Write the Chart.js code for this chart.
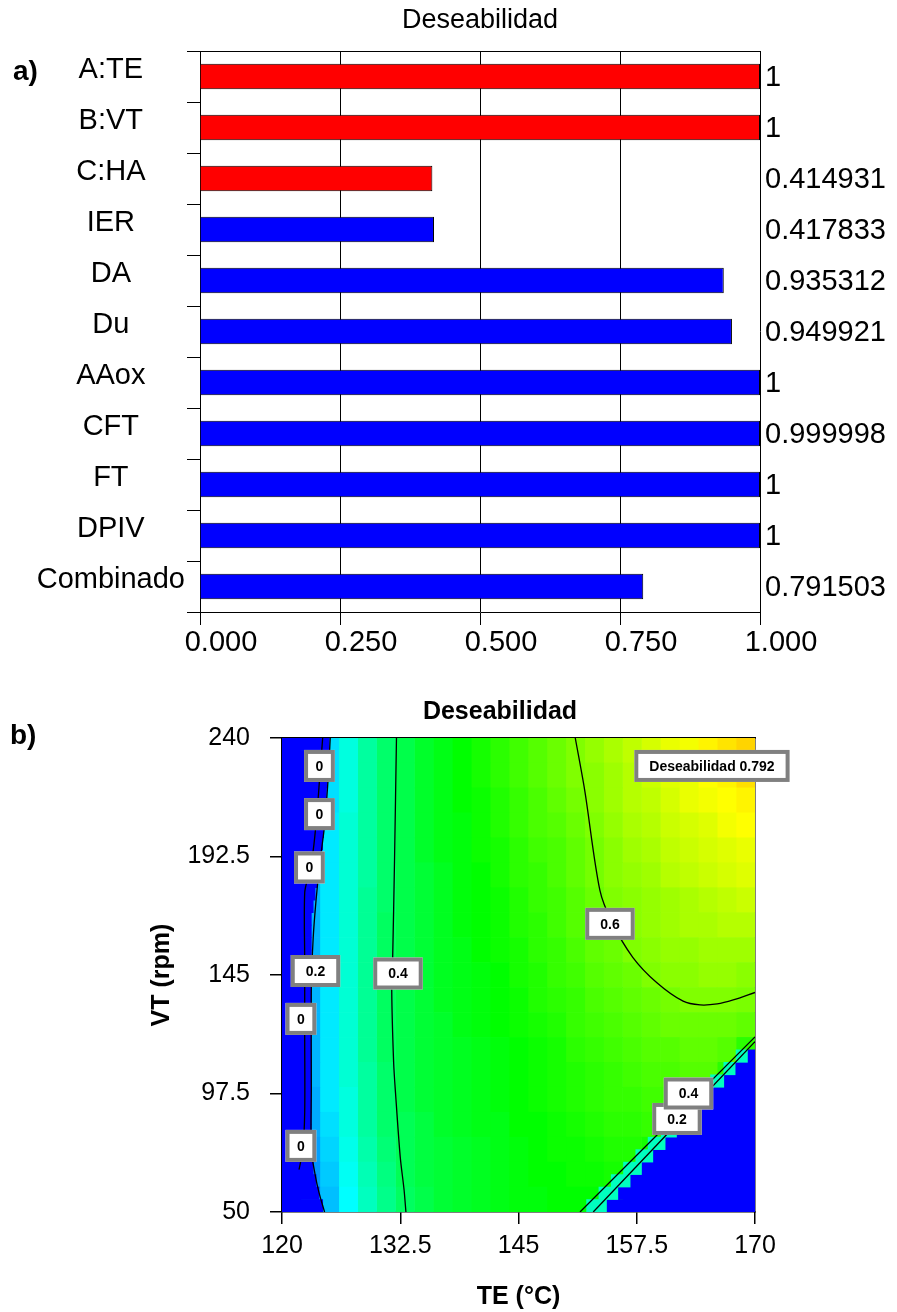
<!DOCTYPE html>
<html>
<head>
<meta charset="utf-8">
<title>Deseabilidad</title>
<script src="https://cdn.jsdelivr.net/npm/chart.js@4.4.1/dist/chart.umd.min.js"></script>
<style>
  html, body { margin: 0; padding: 0; background: #fff; }
  #page { position: relative; width: 897px; height: 1312px; overflow: hidden; font-family: "Liberation Sans", Arial, sans-serif; }
  canvas { position: absolute; left: 0; }
  #barChart { top: 0; }
  #contourChart { top: 680px; }
  .panel { position: absolute; font-weight: bold; font-size: 28px; line-height: 28px; color: #000; }
</style>
</head>
<body>
<div id="page">
  <canvas id="barChart" width="897" height="680"></canvas>
  <canvas id="contourChart" width="897" height="632"></canvas>
  <div class="panel" style="left:13px;top:57px">a)</div>
  <div class="panel" style="left:10px;top:721px">b)</div>
</div>
<script>
// ---- panel a) : individual desirabilities ----
var categories = ['A:TE', 'B:VT', 'C:HA', 'IER', 'DA', 'Du', 'AAox', 'CFT', 'FT', 'DPIV', 'Combinado'];
var desirabilities = [1, 1, 0.414931, 0.417833, 0.935312, 0.949921, 1, 0.999998, 1, 1, 0.791503];
var kinds = ['factor', 'factor', 'factor', 'response', 'response', 'response', 'response', 'response', 'response', 'response', 'response'];
var barTicks = [0, 0.25, 0.5, 0.75, 1];

// ---- panel b) : desirability contour over TE / VT ----
var teTicks = [120, 132.5, 145, 157.5, 170];
var vtTicks = [50, 97.5, 145, 192.5, 240];
var teEdges = [120, 122, 124, 126, 128, 130, 132, 134, 136, 138, 140, 142, 144, 146, 148, 150, 152, 154, 156, 158, 160, 162, 164, 166, 168, 170];
var vtRows = [235, 225, 215, 205, 195, 185, 175, 165, 155, 145, 135, 125, 115, 105, 95, 85, 75, 65, 55];
// desirability read per cell (rows follow vtRows, columns follow teEdges)
var desirabilityGrid = [
  [0, 0.15, 0.21, 0.27, 0.33, 0.38, 0.41, 0.44, 0.46, 0.48, 0.50, 0.52, 0.54, 0.56, 0.58, 0.60, 0.62, 0.64, 0.66, 0.68, 0.70, 0.71, 0.73, 0.745, 0.76],
  [0, 0.15, 0.21, 0.27, 0.33, 0.38, 0.41, 0.44, 0.46, 0.48, 0.50, 0.52, 0.54, 0.56, 0.58, 0.60, 0.61, 0.63, 0.65, 0.67, 0.69, 0.70, 0.72, 0.73, 0.75],
  [0, 0.16, 0.21, 0.27, 0.33, 0.38, 0.41, 0.44, 0.46, 0.48, 0.49, 0.51, 0.53, 0.55, 0.57, 0.59, 0.61, 0.63, 0.65, 0.66, 0.68, 0.70, 0.71, 0.72, 0.73],
  [0, 0.16, 0.22, 0.28, 0.33, 0.38, 0.41, 0.44, 0.46, 0.47, 0.49, 0.51, 0.53, 0.55, 0.56, 0.58, 0.60, 0.62, 0.64, 0.65, 0.67, 0.68, 0.69, 0.71, 0.72],
  [0, 0.17, 0.22, 0.28, 0.33, 0.38, 0.41, 0.44, 0.46, 0.47, 0.49, 0.50, 0.52, 0.54, 0.55, 0.57, 0.59, 0.61, 0.63, 0.64, 0.66, 0.67, 0.68, 0.69, 0.70],
  [0, 0.17, 0.22, 0.28, 0.33, 0.38, 0.41, 0.43, 0.45, 0.47, 0.48, 0.50, 0.52, 0.53, 0.55, 0.57, 0.59, 0.61, 0.62, 0.63, 0.65, 0.66, 0.67, 0.68, 0.69],
  [0, 0.17, 0.22, 0.28, 0.34, 0.38, 0.41, 0.43, 0.45, 0.47, 0.48, 0.49, 0.51, 0.53, 0.54, 0.56, 0.58, 0.60, 0.61, 0.62, 0.63, 0.64, 0.65, 0.66, 0.67],
  [0, 0.17, 0.22, 0.28, 0.34, 0.39, 0.41, 0.43, 0.45, 0.47, 0.48, 0.49, 0.51, 0.52, 0.54, 0.56, 0.58, 0.60, 0.61, 0.62, 0.63, 0.64, 0.64, 0.65, 0.65],
  [0, 0.17, 0.22, 0.28, 0.34, 0.39, 0.41, 0.43, 0.45, 0.46, 0.48, 0.49, 0.50, 0.52, 0.53, 0.55, 0.57, 0.58, 0.60, 0.61, 0.62, 0.62, 0.63, 0.63, 0.63],
  [0, 0.17, 0.22, 0.28, 0.34, 0.39, 0.41, 0.43, 0.45, 0.46, 0.47, 0.48, 0.50, 0.51, 0.53, 0.54, 0.56, 0.57, 0.58, 0.60, 0.61, 0.61, 0.62, 0.62, 0.61],
  [0, 0.17, 0.22, 0.28, 0.34, 0.39, 0.41, 0.43, 0.45, 0.46, 0.47, 0.48, 0.49, 0.51, 0.52, 0.53, 0.55, 0.56, 0.57, 0.58, 0.59, 0.60, 0.60, 0.60, 0.595],
  [0, 0.17, 0.22, 0.28, 0.34, 0.39, 0.41, 0.43, 0.44, 0.46, 0.47, 0.48, 0.49, 0.50, 0.51, 0.53, 0.54, 0.55, 0.56, 0.57, 0.58, 0.58, 0.58, 0.58, 0.57],
  [0, 0.17, 0.22, 0.28, 0.34, 0.39, 0.41, 0.43, 0.44, 0.45, 0.46, 0.47, 0.48, 0.49, 0.50, 0.52, 0.53, 0.54, 0.55, 0.56, 0.56, 0.57, 0.57, 0.56, 0.52],
  [0, 0.17, 0.22, 0.28, 0.33, 0.38, 0.41, 0.43, 0.44, 0.45, 0.46, 0.47, 0.48, 0.49, 0.50, 0.51, 0.52, 0.53, 0.54, 0.55, 0.55, 0.56, 0.56, 0.52, 0.30],
  [0, 0.16, 0.22, 0.27, 0.33, 0.38, 0.41, 0.43, 0.44, 0.45, 0.46, 0.47, 0.48, 0.49, 0.50, 0.51, 0.52, 0.53, 0.53, 0.54, 0.54, 0.54, 0.50, 0.30, 0],
  [0, 0.16, 0.21, 0.27, 0.33, 0.38, 0.40, 0.42, 0.44, 0.45, 0.46, 0.46, 0.48, 0.48, 0.49, 0.50, 0.51, 0.52, 0.52, 0.53, 0.52, 0.46, 0, 0, 0],
  [0, 0.15, 0.20, 0.26, 0.32, 0.37, 0.40, 0.42, 0.43, 0.44, 0.45, 0.46, 0.47, 0.48, 0.49, 0.49, 0.50, 0.51, 0.51, 0.50, 0, 0, 0, 0, 0],
  [0, 0.14, 0.19, 0.25, 0.31, 0.36, 0.40, 0.42, 0.43, 0.44, 0.45, 0.46, 0.47, 0.48, 0.48, 0.49, 0.49, 0.50, 0.48, 0, 0, 0, 0, 0, 0],
  [0, 0.13, 0.18, 0.24, 0.30, 0.35, 0.39, 0.41, 0.43, 0.44, 0.45, 0.46, 0.47, 0.47, 0.48, 0.48, 0.48, 0.45, 0, 0, 0, 0, 0, 0, 0]
];

// zero-desirability zones, read row by row (5 rpm rows)
var edgeRows = [52.5, 57.5, 62.5, 67.5, 72.5, 77.5, 82.5, 87.5, 92.5, 97.5, 102.5, 107.5, 112.5, 117.5, 122.5, 127.5, 132.5, 137.5, 142.5,
  147.5, 152.5, 157.5, 162.5, 167.5, 172.5, 177.5, 182.5, 187.5, 192.5, 197.5, 202.5, 207.5, 212.5, 217.5, 222.5, 227.5, 232.5, 237.5];
var leftZeroEdge = [124.3, 123.9, 123.6, 123.3, 123.1, 123.1, 123.1, 123.1, 123.1, 123.1, 123.1, 123.1, 123.1, 123.1, 123.1, 123.1, 123.1, 123.1, 123.1,
  123.1, 123.1, 123.1, 123.1, 123.1, 123.3, 123.5, 123.7, 123.9, 124.1, 124.3, 124.4, 124.5, 124.6, 124.7, 124.8, 124.9, 125.0, 125.0];
var cliffRows = [52.5, 57.5, 62.5, 67.5, 72.5, 77.5, 82.5, 87.5, 92.5, 97.5, 102.5, 107.5, 112.5];
var cliffLine = [152.2, 153.5, 154.8, 156.1, 157.4, 158.7, 160.1, 161.4, 162.7, 164.0, 165.3, 166.7, 168.0];
var cliffZeroEdge = [154.3, 155.5, 156.8, 158.0, 159.2, 160.5, 161.7, 163.0, 164.2, 165.4, 166.7, 167.9, 169.2];
var cliffValue = 0.3;

// contour lines [TE, VT]
var contourLeft0 = [[124.3, 240], [124.0, 225], [123.7, 210], [123.3, 195], [122.8, 185], [122.4, 178], [122.4, 150], [122.4, 120], [122.4, 90], [122.2, 75], [121.8, 67]];
var contourLeft02 = [[125.1, 240], [124.9, 225], [124.5, 205], [124.0, 190], [123.6, 175], [123.3, 160], [123.1, 140], [123.1, 100], [123.1, 75], [123.5, 65], [123.9, 58], [124.5, 50]];
var contourLeft04 = [[132.1, 240], [131.9, 192], [131.7, 152], [131.6, 139], [131.8, 110], [132.0, 97.7], [132.5, 72], [132.9, 59], [133.1, 50]];
var contour06 = [[151.0, 240], [152.0, 219], [153.6, 179], [154.9, 166], [157.1, 152], [159.6, 142], [162.4, 134.5], [164.2, 133], [166.0, 133.4], [167.7, 135], [170, 138]];
var contourRight04 = [[151.5, 50], [170, 120.2]];
var contourRight02 = [[152.9, 50], [170, 118.3]];

var labelText = ['0', '0', '0', '0.2', '0.4', '0', '0', '0.6', '0.2', '0.4', 'Deseabilidad 0.792'];
var labelTE = [123.96, 123.96, 122.9, 123.54, 132.26, 122.0, 122.0, 154.67, 161.75, 162.97, 165.45];
var labelVT = [228.8, 209.5, 188.1, 146.6, 145.6, 127.4, 76.5, 165.5, 87.3, 97.5, 228.8];

Chart.defaults.font.family = '"Liberation Sans", Arial, sans-serif';
Chart.defaults.color = '#000';

function desirabilityColor(d) {
  var stops = [[0, 0, 255], [0, 255, 255], [0, 255, 0], [255, 255, 0], [255, 0, 0]];
  var t = Math.min(Math.max(d / 0.96, 0), 1) * (stops.length - 1);
  var i = Math.min(Math.floor(t), stops.length - 2);
  var f = t - i;
  var c = stops[i].map(function (v, k) { return Math.round(v + (stops[i + 1][k] - v) * f); });
  return 'rgb(' + c.join(',') + ')';
}

// Bar chart
new Chart(document.getElementById('barChart'), {
  type: 'bar',
  data: {
    labels: categories,
    datasets: [{
      data: desirabilities,
      backgroundColor: kinds.map(function (k) { return k === 'factor' ? '#ff0000' : '#0000ff'; }),
      borderColor: '#000', borderWidth: 1,
      barPercentage: 0.5, categoryPercentage: 1
    }]
  },
  options: {
    indexAxis: 'y', responsive: false, animation: false, devicePixelRatio: 1, events: [],
    layout: { padding: 0 },
    plugins: { legend: { display: false }, tooltip: { enabled: false } },
    scales: {
      x: {
        type: 'linear', position: 'bottom', min: 0, max: 1,
        afterBuildTicks: function (s) { s.ticks = barTicks.map(function (v) { return { value: v }; }); },
        afterFit: function (s) { s.height = 68; },
        ticks: { font: { size: 29 }, color: '#000', padding: 1, labelOffset: 21, maxRotation: 0, autoSkip: false,
          callback: function (v) { return Number(v).toFixed(3); } },
        grid: { color: '#000', lineWidth: 1, tickLength: 13, drawOnChartArea: true },
        border: { display: true, color: '#000', width: 1 }
      },
      x2: {
        type: 'linear', position: 'top', min: 0, max: 1,
        afterFit: function (s) { s.height = 51; },
        ticks: { display: false }, grid: { display: false, drawTicks: false },
        border: { display: true, color: '#000', width: 1 },
        title: { display: true, text: 'Deseabilidad', font: { size: 27, weight: 'normal' }, color: '#000', padding: { top: 4, bottom: 0 } }
      },
      y: {
        type: 'category', position: 'left',
        afterFit: function (s) { s.width = 200; },
        ticks: { font: { size: 29 }, color: '#000', padding: 2, crossAlign: 'center', labelOffset: -7, autoSkip: false },
        grid: { drawOnChartArea: false, color: '#000', tickLength: 13, offset: true },
        border: { display: true, color: '#000', width: 1 }
      },
      y2: {
        type: 'category', position: 'right', offset: true,
        labels: desirabilities.map(String),
        afterFit: function (s) { s.width = 137; },
        ticks: { font: { size: 29 }, color: '#000', padding: 5, crossAlign: 'near', labelOffset: 1.5, autoSkip: false },
        grid: { display: false, drawTicks: false },
        border: { display: false }
      }
    }
  }
});

// Contour chart: heat cells, zero zones, contour lines
var heatSets = teEdges.slice(0, -1).map(function (te0, c) {
  return {
    type: 'bar', indexAxis: 'y', grouped: false, order: 3, xAxisID: 'x', yAxisID: 'y',
    data: vtRows.map(function (vt) { return { y: vt, x: [te0, teEdges[c + 1]] }; }),
    backgroundColor: vtRows.map(function (vt, r) { return desirabilityColor(desirabilityGrid[r][c]); }),
    borderWidth: 0, barPercentage: 1, categoryPercentage: 1
  };
});

var teMin = teEdges[0], teMax = teEdges[teEdges.length - 1];
var zoneSets = [
  { data: edgeRows.map(function (vt, i) { return { y: vt, x: [teMin, leftZeroEdge[i]] }; }), backgroundColor: desirabilityColor(0) },
  { data: cliffRows.map(function (vt, i) { return { y: vt, x: [cliffLine[i], cliffZeroEdge[i]] }; }), backgroundColor: desirabilityColor(cliffValue) },
  { data: cliffRows.map(function (vt, i) { return { y: vt, x: [cliffZeroEdge[i], teMax] }; }), backgroundColor: desirabilityColor(0) }
].map(function (ds) {
  return Object.assign({ type: 'bar', indexAxis: 'y', grouped: false, order: 2, xAxisID: 'x', yAxisID: 'yb',
    borderWidth: 0, barPercentage: 1, categoryPercentage: 1 }, ds);
});

var lineSets = [contourLeft0, contourLeft02, contourLeft04, contour06, contourRight04, contourRight02].map(function (pts) {
  return {
    type: 'line', order: 0, xAxisID: 'x', yAxisID: 'y',
    data: pts.map(function (p) { return { x: p[0], y: p[1] }; }),
    borderColor: '#000', borderWidth: 1.3, pointRadius: 0, tension: 0.3, fill: false
  };
});

var contourLabels = {
  id: 'contourLabels',
  afterDraw: function (chart) {
    var ctx = chart.ctx, xs = chart.scales.x, ys = chart.scales.y;
    ctx.save();
    ctx.font = 'bold 14px "Liberation Sans", Arial, sans-serif';
    ctx.textAlign = 'center';
    ctx.textBaseline = 'middle';
    labelText.forEach(function (t, i) {
      var px = xs.getPixelForValue(labelTE[i]), py = ys.getPixelForValue(labelVT[i]);
      var w = ctx.measureText(t).width + (t.length > 1 ? 30 : 23), h = 32;
      ctx.fillStyle = '#fff';
      ctx.fillRect(px - w / 2, py - h / 2, w, h);
      ctx.lineWidth = 4;
      ctx.strokeStyle = '#808080';
      ctx.strokeRect(px - w / 2 + 2, py - h / 2 + 2, w - 4, h - 4);
      ctx.fillStyle = '#000';
      ctx.fillText(t, px, py + 1);
    });
    ctx.restore();
  }
};

var axisLine = { display: true, color: '#000', width: 1.5 };
new Chart(document.getElementById('contourChart'), {
  type: 'bar',
  data: { datasets: heatSets.concat(zoneSets, lineSets) },
  options: {
    responsive: false, animation: false, devicePixelRatio: 1, events: [],
    layout: { padding: { left: 103, right: 0, top: 0, bottom: 0 } },
    plugins: {
      legend: { display: false }, tooltip: { enabled: false },
      title: { display: true, text: 'Deseabilidad', font: { size: 25, weight: 'bold' }, color: '#000', padding: { top: 17, bottom: 11 } }
    },
    scales: {
      x: {
        type: 'linear', position: 'bottom', min: 120, max: 170, offset: false, z: 1,
        afterBuildTicks: function (s) { s.ticks = teTicks.map(function (v) { return { value: v }; }); },
        afterFit: function (s) { s.height = 100; },
        ticks: { font: { size: 25 }, color: '#000', padding: 7, maxRotation: 0, autoSkip: false },
        grid: { drawOnChartArea: false, color: '#000', lineWidth: 1.5, tickLength: 12, offset: false },
        border: axisLine,
        title: { display: true, text: 'TE (°C)', font: { size: 25, weight: 'bold' }, color: '#000', padding: { top: 0, bottom: 0 } }
      },
      x2: {
        type: 'linear', position: 'top', z: 1,
        afterFit: function (s) { s.height = 0; },
        ticks: { display: false }, grid: { display: false, drawTicks: false },
        border: axisLine
      },
      y: {
        type: 'linear', position: 'left', min: 50, max: 240, offset: false, z: 1,
        afterBuildTicks: function (s) { s.ticks = vtTicks.map(function (v) { return { value: v }; }); },
        afterFit: function (s) { s.width = 179; },
        ticks: { font: { size: 25 }, color: '#000', padding: 20, autoSkip: false },
        grid: { drawOnChartArea: false, color: '#000', lineWidth: 1.5, tickLength: 12, offset: false },
        border: axisLine,
        title: { display: true, text: 'VT (rpm)', font: { size: 25, weight: 'bold' }, color: '#000', padding: { top: 44, bottom: 0 } }
      },
      y2: {
        type: 'linear', position: 'right', z: 1,
        afterFit: function (s) { s.width = 142; },
        ticks: { display: false }, grid: { display: false, drawTicks: false },
        border: axisLine
      },
      yb: { type: 'linear', display: false, min: 50, max: 240, offset: false, grid: { offset: false } }
    }
  },
  plugins: [contourLabels]
});
</script>
</body>
</html>
